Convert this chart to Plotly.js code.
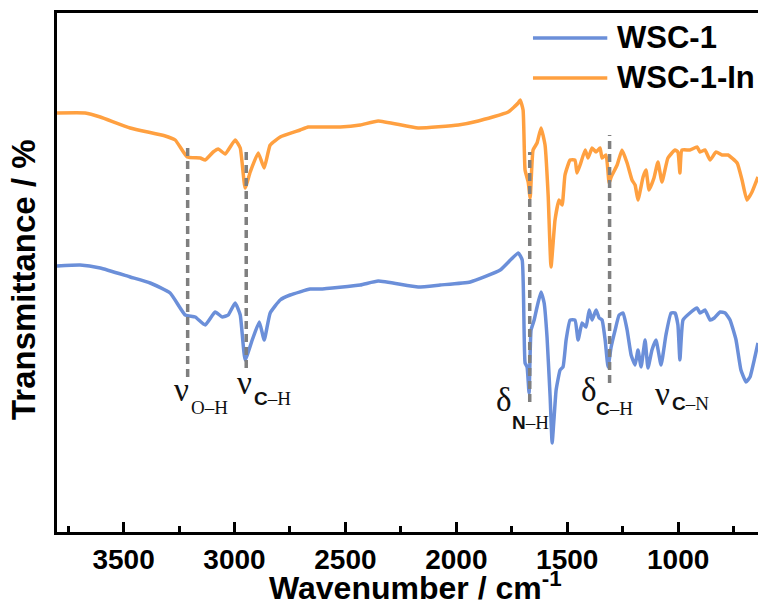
<!DOCTYPE html>
<html>
<head>
<meta charset="utf-8">
<script src="https://cdn.plot.ly/plotly-3.0.1.min.js"></script>
<style>html,body{margin:0;padding:0;background:#fff;}#chart{width:758px;height:606px;}</style>
</head>
<body>
<div id="chart"></div>
<script>
// Wavenumber (cm^-1) and transmittance (arbitrary offset units)
const wsc1_x = [3800,3696,3605,3470,3380,3290,3222,3177,3132,3087,3055,3028,2997,2974,2952,2920,2888,2866,2839,2794,2749,2659,2614,2433,2352,2172,2073,1937,1802,1721,1703,1690,1681,1672,1663,1649,1636,1618,1604,1591,1577,1568,1559,1550,1532,1519,1505,1487,1465,1451,1433,1415,1401,1388,1370,1356,1343,1329,1316,1302,1284,1266,1248,1230,1212,1194,1181,1167,1149,1136,1118,1100,1077,1055,1032,1014,1001,992,978,947,915,901,879,856,837,811,788,766,739,717,694,676,654,640];
const wsc1_y = [53.2,53.4,52.8,51.0,49.8,47.8,43.4,43.0,41.4,44.0,43.0,43.4,45.8,43.4,34.4,38.4,42.0,38.4,43.8,46.4,47.4,48.6,48.6,49.4,50.2,49.0,49.4,50.0,52.4,55.8,54.4,33.8,33.0,27.8,40.4,42.4,45.0,48.0,45.8,39.0,27.0,17.8,23.0,28.4,32.4,33.0,38.4,42.4,42.4,38.4,41.8,41.0,44.4,42.4,44.4,42.8,42.4,38.4,33.0,37.0,40.4,43.4,43.8,40.4,35.4,33.4,36.4,33.0,38.4,32.8,36.4,38.4,33.4,39.4,43.8,43.8,41.4,34.4,42.4,43.8,44.8,43.8,44.4,42.4,42.8,44.0,43.8,42.4,38.4,32.4,30.0,31.0,35.0,37.8];

const wscIn_x = [3800,3673,3605,3470,3312,3267,3213,3154,3132,3096,3073,3042,2997,2974,2952,2929,2893,2866,2839,2794,2704,2668,2614,2523,2433,2352,2172,1991,1901,1766,1721,1712,1699,1690,1676,1667,1654,1636,1618,1600,1586,1573,1555,1537,1523,1510,1487,1465,1456,1442,1419,1406,1388,1370,1352,1343,1325,1311,1302,1275,1253,1230,1208,1194,1181,1158,1145,1131,1109,1091,1073,1046,1014,1001,992,983,947,915,901,879,856,829,802,775,734,712,690,667,640];
const wscIn_y = [83.8,83.8,83.0,80.8,79.2,78.4,75.0,74.8,74.4,76.0,76.6,75.6,78.4,76.8,68.8,72.0,75.8,72.8,77.4,79.0,80.4,81.0,81.0,81.0,81.4,82.2,80.8,81.4,82.2,84.0,85.8,86.4,84.4,72.4,70.0,66.8,76.4,77.8,80.8,77.4,67.4,53.0,62.4,66.4,65.4,71.4,74.4,74.4,71.8,73.4,76.4,74.8,76.8,76.0,76.8,74.8,75.4,69.8,71.0,73.4,76.4,73.8,70.4,69.4,66.4,71.0,72.4,68.4,70.8,74.0,70.0,74.8,76.4,76.0,71.8,76.4,76.4,77.0,76.0,76.4,74.4,76.0,75.4,75.4,73.8,70.4,66.4,68.0,71.0];

const seriesNames = ["WSC-1", "WSC-1-In"];
const seriesColors = ["#6b8fd9", "#ffa040"];

// band assignments: position (cm^-1), dashed-line extent
const bandX = [3211, 2947, 1669, 1309];
const bandTop = [77.8, 76.4, 76.0, 79.4];
const bandBottom = [31.0, 32.8, 26.0, 29.8];

const tickVals = [3500, 3000, 2500, 2000, 1500, 1000];

const traces = [
  {x: wsc1_x, y: wsc1_y, name: seriesNames[0], type: 'scatter', mode: 'lines',
   line: {color: seriesColors[0], width: 3.5, shape: 'spline', smoothing: 0.4}, showlegend: false},
  {x: wscIn_x, y: wscIn_y, name: seriesNames[1], type: 'scatter', mode: 'lines',
   line: {color: seriesColors[1], width: 3.5, shape: 'spline', smoothing: 0.4}, showlegend: false}
];

const shapes = bandX.map((bx, i) => ({
  type: 'line', xref: 'x', yref: 'y', x0: bx, x1: bx, y0: bandBottom[i], y1: bandTop[i],
  line: {color: '#7f7f7f', width: 3.5, dash: '8px,5px'}, layer: 'above'
}));
// legend line samples
shapes.push({type:'line', xref:'paper', yref:'paper', x0:0.679, x1:0.785, y0:0.952, y1:0.952, line:{color:seriesColors[0], width:3.5}});
shapes.push({type:'line', xref:'paper', yref:'paper', x0:0.679, x1:0.785, y0:0.875, y1:0.875, line:{color:seriesColors[1], width:3.5}});

const serif = "Liberation Serif, Times New Roman, serif";
const sansB = "font-family:'Liberation Sans',Arial;font-weight:bold";
const boldSans = 'Liberation Sans, Arial';
function lab(x, y, text, size) {
  return {xref:'x', yref:'y', x:x, y:y, text:text, showarrow:false,
          font:{family: serif, size: size, color:'#111'}, xanchor:'center', yanchor:'middle'};
}
const annotations = [
  lab(3237, 28.4, 'ν', 33), lab(3113, 25.0, 'O–H', 19),
  lab(2953, 29.8, 'ν', 33), lab(2830, 26.8, '<span style="'+sansB+'">C</span>–H', 19),
  lab(1786, 26.4, 'δ', 33), lab(1667, 22.0, '<span style="'+sansB+'">N</span>–H', 19),
  lab(1403, 28.4, 'δ', 33), lab(1289, 24.8, '<span style="'+sansB+'">C</span>–H', 19),
  lab(1070, 27.6, 'ν', 33), lab(946, 25.8, '<span style="'+sansB+'">C</span>–N', 19),
  {xref:'paper', yref:'paper', x:0.796, y:0.952, text:seriesNames[0], showarrow:false, xanchor:'left', yanchor:'middle',
   font:{family:boldSans, size:31, weight:'bold', color:'#000'}},
  {xref:'paper', yref:'paper', x:0.796, y:0.875, text:seriesNames[1], showarrow:false, xanchor:'left', yanchor:'middle',
   font:{family:boldSans, size:31, weight:'bold', color:'#000'}},
  {xref:'paper', yref:'paper', x:-0.0485, y:0.4855, text:'Transmittance / %', showarrow:false, textangle:-90,
   xanchor:'center', yanchor:'middle',
   font:{family:boldSans, size:33, weight:'bold', color:'#000'}},
  {xref:'paper', yref:'paper', x:0.5114, y:-0.104, text:'Wavenumber / cm<sup>-1</sup>', showarrow:false,
   xanchor:'center', yanchor:'middle',
   font:{family:boldSans, size:32, weight:'bold', color:'#000'}}
];

const layout = {
  width: 758, height: 606,
  margin: {l: 57, r: 0, t: 13, b: 74},
  paper_bgcolor: '#fff', plot_bgcolor: '#fff',
  showlegend: false,
  xaxis: {
    range: [3800, 640], tickvals: tickVals, ticktext: tickVals.map(String),
    ticks: 'inside', ticklen: 10, tickwidth: 3, tickcolor: '#000',
    minor: {ticks: 'inside', ticklen: 6, tickwidth: 3, tickcolor: '#000', tickvals: [3750,3250,2750,2250,1750,1250,750]},
    showline: true, linewidth: 3, linecolor: '#000', mirror: true,
    showgrid: false, zeroline: false,
    tickfont: {family: boldSans, size: 28, weight: 'bold', color: '#000'}
  },
  yaxis: {
    range: [0, 103.8], showticklabels: false, ticks: '',
    showline: true, linewidth: 3, linecolor: '#000', mirror: false,
    showgrid: false, zeroline: false
  },
  shapes: shapes,
  annotations: annotations
};

Plotly.newPlot('chart', traces, layout, {displayModeBar: false, staticPlot: true});
</script>
</body>
</html>
